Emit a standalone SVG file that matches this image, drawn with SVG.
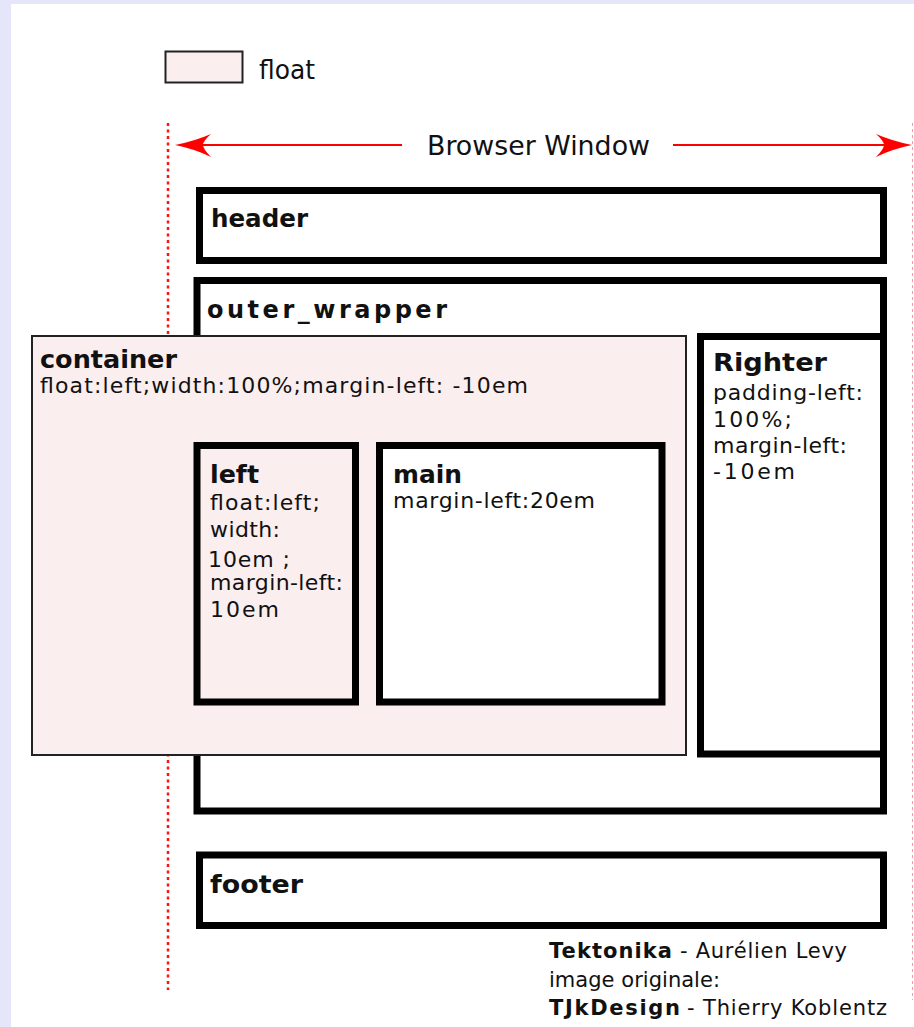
<svg xmlns="http://www.w3.org/2000/svg" width="914" height="1027" viewBox="0 0 914 1027">
<style>
.box{stroke:#000;stroke-width:7;fill:#fff}
.pink{fill:#fbeeee}
.t{font-family:"DejaVu Sans","Liberation Sans",sans-serif;fill:#111}
.b{font-weight:bold;font-size:24px}
.n{font-size:22px}
.c{font-size:21px}
.red{fill:#ff0000}
</style>
<rect x="0" y="0" width="914" height="1027" fill="#e6e6fa"/>
<rect x="11" y="4" width="903" height="1023" fill="#fff"/>

<g id="legend">
<rect x="165.5" y="51.5" width="77" height="31" class="pink" stroke="#222" stroke-width="2"/>
<text x="259" y="79" class="t" font-size="27" textLength="56" lengthAdjust="spacingAndGlyphs">float</text>
</g>

<g id="connectors">
<line x1="168" y1="123" x2="168" y2="990" stroke="#f11" stroke-width="2.5" stroke-dasharray="3 3.5"/>
<line x1="912.5" y1="123" x2="912.5" y2="1000" stroke="#f9a" stroke-width="1" stroke-dasharray="3 3"/>
<line x1="200" y1="145" x2="402" y2="145" stroke="#f00" stroke-width="2"/>
<line x1="673" y1="145" x2="885" y2="145" stroke="#f00" stroke-width="2"/>
<path class="red" d="M175,145 Q195,141 211,134 Q203,141 203,145 Q203,149 211,157 Q195,149 175,145 Z"/>
<path class="red" d="M912,145 Q892,141 876,134 Q884,141 884,145 Q884,149 876,157 Q892,149 912,145 Z"/>
<text x="427" y="155" class="t" font-size="27" textLength="223" lengthAdjust="spacingAndGlyphs">Browser Window</text>
</g>

<g id="header">
<rect x="199.5" y="190.5" width="684" height="70" class="box"/>
<text x="211" y="227" class="t b" textLength="97" lengthAdjust="spacingAndGlyphs">header</text>
</g>

<g id="outer_wrapper">
<rect x="197" y="280.5" width="686.5" height="530.5" class="box"/>
<text x="207" y="318" class="t b" textLength="240" lengthAdjust="spacing">outer_wrapper</text>
</g>

<g id="container">
<rect x="32" y="336" width="654" height="419" class="pink" stroke="#222" stroke-width="2"/>
<text x="40" y="368" class="t b" textLength="137" lengthAdjust="spacingAndGlyphs">container</text>
<text x="40" y="393" class="t n" textLength="488" lengthAdjust="spacing">float:left;width:100%;margin-left: -10em</text>
</g>

<g id="left">
<rect x="197" y="445.5" width="158.5" height="256.5" class="box pink" stroke-width="7.5"/>
<text x="210" y="483" class="t b" textLength="49" lengthAdjust="spacingAndGlyphs">left</text>
<text x="210" y="510" class="t n" textLength="110" lengthAdjust="spacing">float:left;</text>
<text x="210" y="537" class="t n" textLength="70" lengthAdjust="spacing">width:</text>
<text x="208" y="567" class="t n" textLength="82" lengthAdjust="spacing">10em ;</text>
<text x="210" y="590" class="t n" textLength="133" lengthAdjust="spacing">margin-left:</text>
<text x="210" y="617" class="t n" textLength="69" lengthAdjust="spacing">10em</text>
</g>

<g id="main">
<rect x="379.5" y="445.5" width="282.5" height="256.5" class="box" stroke-width="7.5"/>
<text x="393" y="483" class="t b" textLength="69" lengthAdjust="spacingAndGlyphs">main</text>
<text x="393" y="508" class="t n" textLength="202" lengthAdjust="spacing">margin-left:20em</text>
</g>

<g id="righter">
<rect x="700.5" y="336.5" width="183" height="417.5" class="box"/>
<text x="713" y="371" class="t b" textLength="114" lengthAdjust="spacingAndGlyphs">Righter</text>
<text x="713" y="400" class="t n" textLength="150" lengthAdjust="spacing">padding-left:</text>
<text x="713" y="427" class="t n" textLength="79" lengthAdjust="spacing">100%;</text>
<text x="713" y="453" class="t n" textLength="134" lengthAdjust="spacing">margin-left:</text>
<text x="713" y="479" class="t n" textLength="82" lengthAdjust="spacing">-10em</text>
</g>

<g id="footer">
<rect x="199.5" y="855" width="684" height="70.5" class="box"/>
<text x="210" y="893" class="t b" textLength="93" lengthAdjust="spacingAndGlyphs">footer</text>
</g>

<g id="credits">
<text x="549" y="958" class="t c" font-weight="bold" textLength="123" lengthAdjust="spacing">Tektonika</text>
<text x="680" y="958" class="t c" textLength="167" lengthAdjust="spacing">- Aurélien Levy</text>
<text x="549" y="987" class="t c" textLength="171" lengthAdjust="spacing">image originale:</text>
<text x="549" y="1015" class="t c" font-weight="bold" textLength="131" lengthAdjust="spacing">TJkDesign</text>
<text x="687" y="1015" class="t c" textLength="200" lengthAdjust="spacing">- Thierry Koblentz</text>
</g>
</svg>
